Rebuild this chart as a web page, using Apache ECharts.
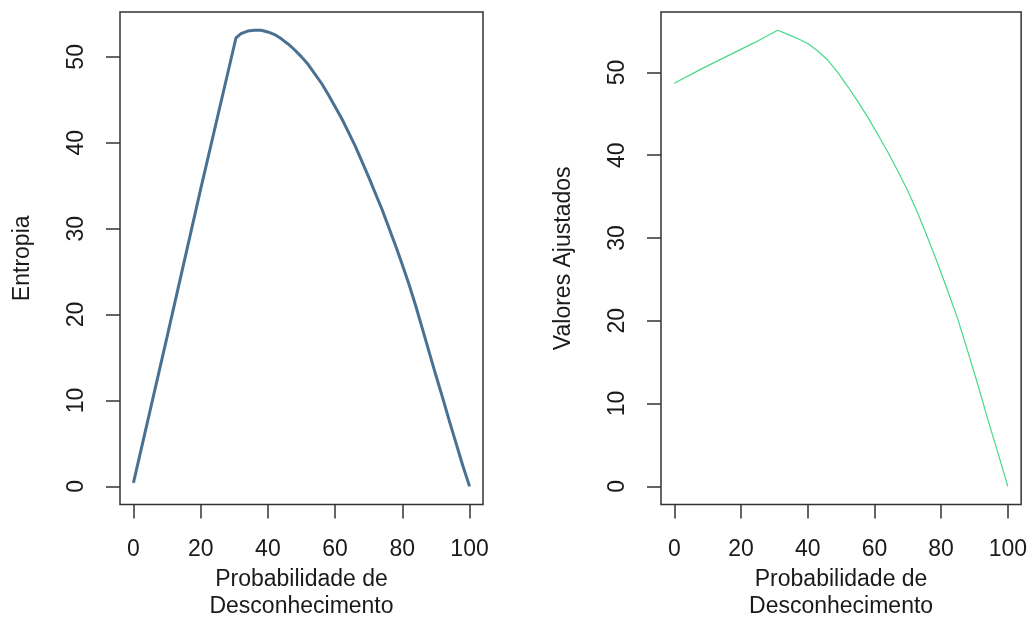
<!DOCTYPE html>
<html>
<head>
<meta charset="utf-8">
<script src="https://cdn.jsdelivr.net/npm/echarts@6/dist/echarts.min.js"></script>
<style>
  html, body { margin: 0; padding: 0; background: #fff; }
  #chart { width: 1030px; height: 625px; }
</style>
</head>
<body>
<div id="chart"></div>
<script>
// Entropia por probabilidade de desconhecimento
const entropiaX = [0, 10, 20, 30.5, 32, 34, 36, 38, 40, 42, 44, 46, 48, 50, 52, 54, 56, 58, 60, 62, 64, 66, 68, 70, 72, 74, 76, 78, 80, 82, 84, 86, 88, 90, 92, 94, 96, 98, 100];
const entropiaY = [0.4, 17.4, 34.6, 52.2, 52.7, 53.0, 53.1, 53.1, 52.9, 52.6, 52.1, 51.5, 50.8, 50.0, 49.1, 48.0, 46.9, 45.6, 44.2, 42.8, 41.2, 39.6, 37.8, 36.0, 34.1, 32.2, 30.1, 28.0, 25.8, 23.5, 21.0, 18.3, 15.6, 12.9, 10.3, 7.6, 5.0, 2.4, 0.0];

// Valores ajustados pelo modelo
const ajusteX = [0, 8, 16, 24, 31, 34, 37, 40, 43, 46, 49, 52, 55, 58, 61, 64, 67, 70, 73, 76, 79, 82, 85, 88, 91, 94, 97, 100];
const ajusteY = [48.7, 50.4, 52.0, 53.6, 55.1, 54.6, 54.1, 53.5, 52.6, 51.5, 50.0, 48.3, 46.5, 44.6, 42.5, 40.4, 38.1, 35.7, 33.0, 30.0, 26.9, 23.6, 20.2, 16.3, 12.3, 8.1, 4.1, 0.0];

// Rótulos dos eixos
const xTicks = [0, 20, 40, 60, 80, 100];
const yTicks = [0, 10, 20, 30, 40, 50];
const xTitle = 'Probabilidade de\nDesconhecimento';
const yTitleLeft = 'Entropia';
const yTitleRight = 'Valores Ajustados';

const FONT = 'Liberation Sans, Arial, sans-serif';
const FS = 23;
const INK = '#1a1a1a';

// R-style 4% padding around the data range
function padRange(vals) {
  const lo = Math.min(...vals), hi = Math.max(...vals);
  const d = (hi - lo) * 0.04;
  return [lo - d, hi + d];
}

function pairs(xs, ys) { return xs.map((x, i) => [x, ys[i]]); }

function xAxisFor(gridIndex, xs) {
  const [mn, mx] = padRange(xs);
  return {
    type: 'value', gridIndex, min: mn, max: mx,
    splitLine: { show: false },
    axisLine: { show: false, onZero: false },
    axisTick: { show: true, inside: false, length: 14, customValues: xTicks,
      lineStyle: { color: '#333', width: 1.5 } },
    axisLabel: { customValues: xTicks, margin: 45, verticalAlign: 'middle',
      fontFamily: FONT, fontSize: FS, color: INK, formatter: v => String(v) },
    name: xTitle, nameLocation: 'middle', nameGap: 86,
    nameTextStyle: { fontFamily: FONT, fontSize: FS, color: INK, lineHeight: 27,
      align: 'center', verticalAlign: 'middle' }
  };
}

function yAxisFor(gridIndex, ys, title) {
  const [mn, mx] = padRange(ys);
  return {
    type: 'value', gridIndex, min: mn, max: mx,
    splitLine: { show: false },
    axisLine: { show: false, onZero: false },
    axisTick: { show: true, inside: false, length: 14, customValues: yTicks,
      lineStyle: { color: '#333', width: 1.5 } },
    axisLabel: { customValues: yTicks, rotate: 90, margin: 43,
      align: 'center', verticalAlign: 'middle',
      fontFamily: FONT, fontSize: FS, color: INK, formatter: v => String(v) },
    name: title, nameLocation: 'middle', nameGap: 97, nameRotate: 90,
    nameTextStyle: { fontFamily: FONT, fontSize: FS, color: INK,
      align: 'center', verticalAlign: 'middle' }
  };
}

const chart = echarts.init(document.getElementById('chart'), null, { renderer: 'canvas' });
chart.setOption({
  animation: false,
  backgroundColor: '#fff',
  grid: [
    { left: 120, top: 12, width: 363, height: 500, show: true,
      borderColor: '#333', borderWidth: 1.5, backgroundColor: 'transparent' },
    { left: 661, top: 12, width: 361, height: 500, show: true,
      borderColor: '#333', borderWidth: 1.5, backgroundColor: 'transparent' }
  ],
  xAxis: [xAxisFor(0, entropiaX), xAxisFor(1, ajusteX)],
  yAxis: [yAxisFor(0, entropiaY, yTitleLeft), yAxisFor(1, ajusteY, yTitleRight)],
  series: [
    { type: 'line', xAxisIndex: 0, yAxisIndex: 0, data: pairs(entropiaX, entropiaY),
      showSymbol: false, lineStyle: { color: '#4a7191', width: 3 } },
    { type: 'line', xAxisIndex: 1, yAxisIndex: 1, data: pairs(ajusteX, ajusteY),
      showSymbol: false, lineStyle: { color: '#46d88b', width: 1.2 } }
  ]
});
</script>
</body>
</html>
